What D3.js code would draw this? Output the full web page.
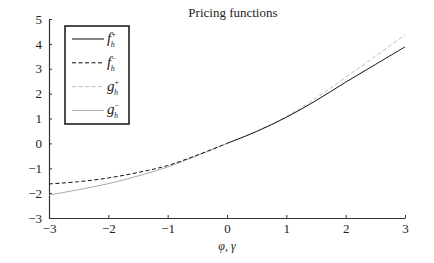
<!DOCTYPE html>
<html>
<head>
<meta charset="utf-8">
<script src="https://cdn.jsdelivr.net/npm/d3@7"></script>
<style>
  body { margin: 0; background: #fff; }
  svg text { font-family: "Liberation Serif", "Times New Roman", serif !important; fill: #222; }
</style>
</head>
<body>
<div id="chart"></div>
<script>
// values
const xNeg = [-3, -2.5, -2, -1.5, -1, -0.5, 0];
const xPos = [0, 0.5, 1, 1.5, 2, 2.5, 3];
const fMinus = [-1.63, -1.54, -1.39, -1.17, -0.89, -0.47, 0];
const gMinus = [-2.08, -1.86, -1.62, -1.31, -0.95, -0.49, 0];
const fPlus = [0, 0.48, 1.05, 1.72, 2.46, 3.17, 3.88];
const gPlus = [0, 0.49, 1.08, 1.82, 2.66, 3.5, 4.36];
const xTicks = [-3, -2, -1, 0, 1, 2, 3];
const yTicks = [-3, -2, -1, 0, 1, 2, 3, 4, 5];

const width = 434, height = 263;
const margin = { top: 19, right: 29, bottom: 45, left: 49 };
const w = width - margin.left - margin.right,
    h = height - margin.top - margin.bottom;

const svg = d3.select("#chart")
    .append("svg")
    .attr("width", width)
    .attr("height", height)
    .append("g")
    .attr("transform", "translate(" + margin.left + "," + margin.top + ")");

const xScale = d3.scaleLinear().domain([-3, 3]).range([0, w]);
const yScale = d3.scaleLinear().domain([-3, 5]).range([h, 0]);

const minus = d => d < 0 ? "\u2212" + Math.abs(d) : d;

// axes, ticks pointing inward
const axisX = d3.axisBottom(xScale).tickValues(xTicks).tickSizeInner(-3).tickSizeOuter(0).tickPadding(6)
    .tickFormat(minus);
const axisY = d3.axisLeft(yScale).tickValues(yTicks).tickSizeInner(-3).tickSizeOuter(0).tickPadding(7)
    .tickFormat(minus);

const gx = svg.append("g")
    .attr("class", "axis_x")
    .attr("transform", `translate(0, ${h})`)
    .call(axisX);
const gy = svg.append("g")
    .attr("class", "axis_y")
    .call(axisY);

[gx, gy].forEach(g => {
    g.attr("font-family", null);
    g.select(".domain").attr("stroke", "#333").attr("stroke-width", 1.2);
    g.selectAll(".tick line").attr("stroke", "#333");
    g.selectAll(".tick text")
        .attr("font-size", 13)
        .attr("fill", "#222");
});

// curves
const line = (xs) => d3.line()
    .x((d, i) => xScale(xs[i]))
    .y(d => yScale(d))
    .curve(d3.curveCatmullRom);

const series = [
    { xs: xNeg, ys: gMinus, color: "#a8a8a8", dash: null },
    { xs: xNeg, ys: fMinus, color: "#111", dash: "4,2.5" },
    { xs: xPos, ys: gPlus, color: "#bdbdbd", dash: "4,2.5" },
    { xs: xPos, ys: fPlus, color: "#111", dash: null }
];

svg.append("g").selectAll("path")
    .data(series)
    .enter().append("path")
    .attr("fill", "none")
    .attr("stroke", d => d.color)
    .attr("stroke-width", 1)
    .attr("stroke-dasharray", d => d.dash)
    .attr("d", d => line(d.xs)(d.ys));

// title
svg.append("text")
    .attr("x", xScale(0.1))
    .attr("y", -2)
    .attr("text-anchor", "middle")
    .attr("font-size", 13)
    .text("Pricing functions");

// x label
svg.append("text")
    .attr("x", xScale(0))
    .attr("y", h + 32)
    .attr("text-anchor", "middle")
    .attr("font-size", 12)
    .attr("font-style", "italic")
    .text("\u03c6, \u03b3");

// legend
const legendItems = [
    { name: "f", sign: "+", color: "#111", dash: null },
    { name: "f", sign: "\u2212", color: "#111", dash: "4,2.5" },
    { name: "g", sign: "+", color: "#bdbdbd", dash: "4,2.5" },
    { name: "g", sign: "\u2212", color: "#a8a8a8", dash: null }
];
const legend = svg.append("g")
    .attr("transform", `translate(${65 - margin.left}, ${26 - margin.top})`);
legend.append("rect")
    .attr("width", 64)
    .attr("height", 98)
    .attr("fill", "#fff")
    .attr("stroke", "#111")
    .attr("stroke-width", 1.5);
const item = legend.selectAll(".item")
    .data(legendItems)
    .enter().append("g")
    .attr("class", "item")
    .attr("transform", (d, i) => `translate(0, ${13 + i * 23.8})`);
item.append("line")
    .attr("x1", 7).attr("x2", 39)
    .attr("stroke", d => d.color)
    .attr("stroke-width", 1)
    .attr("stroke-dasharray", d => d.dash);
const lbl = item.append("text")
    .attr("x", 42)
    .attr("y", 4)
    .attr("font-size", 15)
    .attr("font-style", "italic");
lbl.append("tspan").text(d => d.name);
lbl.append("tspan").attr("font-size", 8).attr("dy", -6).attr("font-style", "normal").text(d => d.sign);
lbl.append("tspan").attr("font-size", 8).attr("dx", -5).attr("dy", 10).text("h");
</script>
</body>
</html>
